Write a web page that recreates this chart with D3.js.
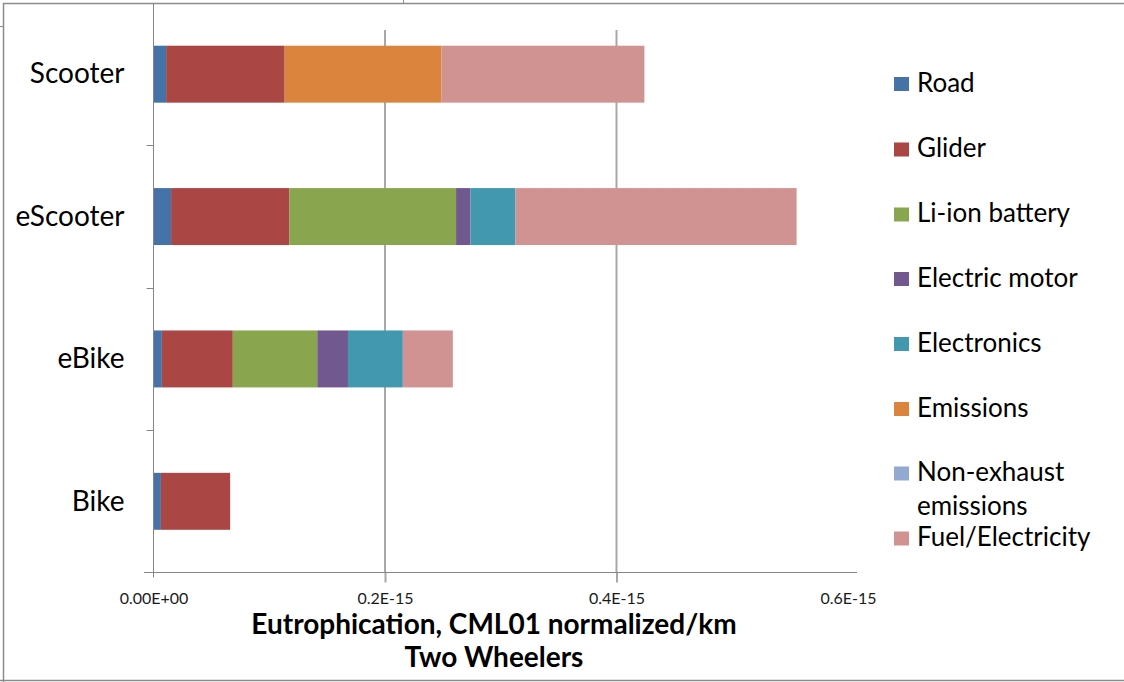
<!DOCTYPE html>
<html>
<head>
<meta charset="utf-8">
<script src="https://cdn.jsdelivr.net/npm/d3@7"></script>
<style>
  html, body { margin: 0; padding: 0; background: #fff; }
  svg { display: block; font-family: Lato, "Liberation Sans", sans-serif; }
</style>
</head>
<body>
<svg id="chart" width="1124" height="682"></svg>
<script>
// Vehicle categories, top to bottom
const categories = ["Scooter", "eScooter", "eBike", "Bike"];

// Life-cycle stages (stack order, left to right)
const seriesNames = ["Road", "Glider", "Li-ion battery", "Electric motor",
                     "Electronics", "Emissions", "Non-exhaust emissions", "Fuel/Electricity"];
const seriesColors = ["#4572A7", "#AA4643", "#89A54E", "#71588F",
                      "#4198AF", "#DB843D", "#93A9CF", "#D19392"];

// Eutrophication per km, CML01 normalized, per stage (order follows categories)
const road         = [0.0109e-15, 0.0152e-15, 0.0072e-15, 0.0064e-15];
const glider       = [0.1024e-15, 0.1021e-15, 0.0613e-15, 0.0598e-15];
const liIonBattery = [0,          0.1441e-15, 0.0730e-15, 0];
const electricMotor= [0,          0.0124e-15, 0.0265e-15, 0];
const electronics  = [0,          0.0389e-15, 0.0474e-15, 0];
const emissions    = [0.1356e-15, 0,          0,          0];
const nonExhaust   = [0,          0,          0,          0];
const fuelElec     = [0.1752e-15, 0.2429e-15, 0.0432e-15, 0];

// Axis ticks
const tickValues = [0, 0.2e-15, 0.4e-15, 0.6e-15];
const tickLabels = ["0.00E+00", "0.2E-15", "0.4E-15", "0.6E-15"];
const gridValues = [0.2e-15, 0.4e-15];

const seriesValues = [road, glider, liIonBattery, electricMotor,
                      electronics, emissions, nonExhaust, fuelElec];

const rows = categories.map((c, i) => {
  const r = { category: c };
  seriesNames.forEach((s, j) => { r[s] = seriesValues[j][i]; });
  return r;
});

const svg = d3.select("#chart");

const plotTop = 3, plotBottom = 572.5, plotLeft = 153.5;
const x = d3.scaleLinear().domain([0, 0.6e-15]).range([plotLeft, 848]);
const y = d3.scaleBand().domain(categories).range([plotTop, plotBottom])
  .paddingInner(0.6).paddingOuter(0.3);
const color = d3.scaleOrdinal().domain(seriesNames).range(seriesColors);

// Outer chart frame
svg.append("path")
  .attr("d", "M3.5,682 V3.5 H1124 M0,680.5 H1124")
  .attr("fill", "none").attr("stroke", "#8c8c8c").attr("stroke-width", 1.5);
svg.append("line").attr("x1", 403.5).attr("x2", 403.5).attr("y1", 0).attr("y2", 3)
  .attr("stroke", "#8c8c8c");
svg.append("line").attr("x1", 0).attr("x2", 3).attr("y1", 26.5).attr("y2", 26.5)
  .attr("stroke", "#8c8c8c");

// Vertical gridlines
svg.append("g")
  .selectAll("line").data(gridValues).join("line")
  .attr("x1", d => x(d)).attr("x2", d => x(d))
  .attr("y1", 30).attr("y2", plotBottom)
  .attr("stroke", "#a8a8a8").attr("stroke-width", 2);

// Stacked bars
const stacked = d3.stack().keys(seriesNames)(rows);
svg.append("g")
  .selectAll("g").data(stacked).join("g")
  .attr("fill", d => color(d.key))
  .selectAll("rect").data(d => d).join("rect")
  .attr("x", d => x(d[0]))
  .attr("width", d => Math.max(0, x(d[1]) - x(d[0])))
  .attr("y", d => y(d.data.category))
  .attr("height", y.bandwidth());

// X axis
const xAxis = d3.axisBottom(x)
  .tickValues(tickValues)
  .tickFormat((d, i) => tickLabels[i])
  .tickSize(10).tickPadding(10).tickSizeOuter(0);
const gx = svg.append("g").attr("transform", `translate(0,${plotBottom})`).call(xAxis);
gx.select(".domain").remove();
gx.append("line").attr("x1", 144).attr("x2", 857).attr("y1", 0).attr("y2", 0)
  .attr("stroke", "#868686");
gx.selectAll(".tick line")
  .attr("stroke", d => gridValues.includes(d) ? "#a8a8a8" : "none")
  .attr("stroke-width", 2);
gx.selectAll(".tick text")
  .attr("font-family", "Lato, sans-serif").attr("font-size", 16)
  .attr("fill", "#1a1a1a");

// Y axis
const yAxis = d3.axisLeft(y).tickSize(0).tickPadding(29);
const gy = svg.append("g").attr("transform", `translate(${plotLeft},0)`).call(yAxis);
gy.select(".domain").remove();
gy.append("line").attr("x1", 0).attr("x2", 0).attr("y1", plotTop).attr("y2", plotBottom + 5)
  .attr("stroke", "#868686");
gy.selectAll(".tick text")
  .attr("font-family", "Lato, sans-serif").attr("font-size", 28)
  .attr("fill", "#000").attr("dy", "0.33em");
const bounds = d3.range(1, categories.length).map(i => plotTop + i * y.step());
gy.selectAll(".cat-tick").data(bounds).join("line")
  .attr("class", "cat-tick")
  .attr("x1", -7).attr("x2", 0)
  .attr("y1", d => Math.round(d) + 0.5).attr("y2", d => Math.round(d) + 0.5)
  .attr("stroke", "#868686");

// Axis title
const title = svg.append("text")
  .attr("text-anchor", "middle")
  .attr("font-family", "Lato, sans-serif").attr("font-weight", "bold")
  .attr("font-size", 28).attr("fill", "#000");
title.append("tspan").attr("x", 494).attr("y", 634).text("Eutrophication, CML01 normalized/km");
title.append("tspan").attr("x", 494).attr("y", 667).text("Two Wheelers");

// Legend
const legendRows = [
  { name: "Road", lines: ["Road"], y: 91.5 },
  { name: "Glider", lines: ["Glider"], y: 157 },
  { name: "Li-ion battery", lines: ["Li-ion battery"], y: 222 },
  { name: "Electric motor", lines: ["Electric motor"], y: 286.5 },
  { name: "Electronics", lines: ["Electronics"], y: 351.5 },
  { name: "Emissions", lines: ["Emissions"], y: 416.5 },
  { name: "Non-exhaust emissions", lines: ["Non-exhaust", "emissions"], y: 481 },
  { name: "Fuel/Electricity", lines: ["Fuel/Electricity"], y: 546 }
];
const lg = svg.append("g").selectAll("g").data(legendRows).join("g");
lg.append("rect")
  .attr("x", 894).attr("y", d => d.y - 14.5)
  .attr("width", 15).attr("height", 14)
  .attr("fill", d => color(d.name));
lg.append("text")
  .attr("font-family", "Lato, sans-serif").attr("font-size", 26).attr("fill", "#000")
  .selectAll("tspan").data(d => d.lines.map((t, i) => ({ t, y: d.y + i * 34 })))
  .join("tspan")
  .attr("x", 917).attr("y", d => d.y).text(d => d.t);
</script>
</body>
</html>
